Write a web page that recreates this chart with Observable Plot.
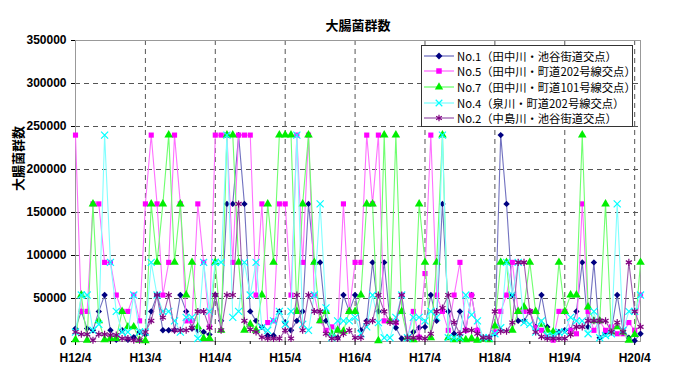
<!DOCTYPE html>
<html><head><meta charset="utf-8">
<script src="https://cdn.jsdelivr.net/npm/d3@7"></script>
<script src="https://cdn.jsdelivr.net/npm/@observablehq/plot@0.6"></script>
<style>
body{margin:0;background:#fff;}
#wrap{position:relative;width:680px;height:380px;}
#legend{position:absolute;left:421px;top:45px;width:212px;height:82px;border:1px solid #333;background:#fff;font-family:"Noto Sans CJK JP";font-size:11.3px;box-sizing:border-box;padding:2px 0 0 1px;color:#000;overflow:visible}
.row{display:flex;align-items:center;height:15.6px;white-space:nowrap}
.row svg{margin-right:2px;flex-shrink:0}
</style></head><body><div id="wrap"><div id="legend"></div></div>
<script>
// month index 0 = H12/4 ... 96 = H20/4, 97 = H20/5
const tickLabels = ["H12/4","H13/4","H14/4","H15/4","H16/4","H17/4","H18/4","H19/4","H20/4"];
const yTicks = [0,50000,100000,150000,200000,250000,300000,350000];

const no1 = [15000,35000,15000,13000,35000,54000,13000,2000,13000,2000,5000,11000,
 8000,35000,54000,13000,13000,13000,54000,35000,15000,13000,11000,8000,
 54000,24000,160000,160000,240000,160000,35000,24000,17000,7000,7000,35000,
 22000,13000,24000,35000,160000,92000,92000,24000,9000,4300,54000,35000,
 54000,13000,24000,92000,35000,92000,24000,16000,3500,3500,11000,16000,
 17000,54000,24000,160000,35000,9000,35000,13000,54000,13000,3500,4300,
 9000,240000,160000,54000,24000,24000,35000,17000,54000,17000,3500,11000,
 13000,13000,35000,92000,17000,92000,4300,9000,13000,54000,13000,4300,
 1000,9000];
const no5 = [240000,35000,35000,160000,160000,92000,92000,54000,35000,35000,54000,24000,
 160000,240000,160000,54000,92000,240000,160000,24000,24000,160000,92000,17000,
 240000,240000,240000,92000,240000,240000,240000,54000,160000,22000,24000,160000,
 160000,54000,240000,92000,240000,54000,24000,13000,17000,13000,160000,35000,
 92000,92000,240000,160000,240000,24000,24000,22000,54000,4300,35000,5000,
 79000,240000,54000,35000,13000,54000,92000,13000,54000,13000,4300,4300,
 11000,35000,54000,92000,35000,35000,35000,16000,13000,5400,1500,35000,
 35000,13000,9000,160000,35000,13000,24000,13000,17000,9000,9000,22000,
 13000,54000];
const no7 = [2000,54000,1500,160000,24000,2000,3500,3500,35000,17000,17000,1500,
 1000,160000,92000,160000,240000,92000,160000,54000,92000,17000,3500,3500,
 92000,13000,240000,240000,92000,13000,20000,13000,54000,160000,92000,240000,
 240000,240000,35000,160000,240000,92000,24000,35000,9000,13000,12000,35000,
 35000,54000,160000,160000,1000,240000,24000,240000,35000,4300,2000,160000,
 92000,4300,92000,240000,4300,2000,3500,2000,3500,1500,3000,2000,
 18000,92000,92000,13000,35000,40000,92000,35000,20000,13000,11000,92000,
 35000,54000,54000,240000,40000,24000,24000,160000,11000,17000,11000,1500,
 8000,92000];
const no4 = [11000,54000,54000,13000,20000,240000,92000,35000,11000,11000,54000,11000,
 11000,92000,54000,35000,35000,24000,11000,28000,28000,3500,92000,35000,
 92000,92000,240000,28000,35000,92000,54000,92000,16000,13000,24000,35000,
 20000,35000,240000,20000,13000,54000,160000,39000,4300,24000,24000,24000,
 28000,9000,17000,54000,22000,4300,4300,28000,54000,4300,28000,28000,
 24000,35000,28000,240000,4300,4300,4300,54000,31000,24000,4300,4300,
 9000,16000,92000,54000,92000,22000,20000,11000,24000,7000,7000,11000,
 11000,28000,24000,24000,9000,35000,4300,7000,9000,160000,13000,35000,
 35000,54000];
const no2 = [11000,8500,8500,1500,8500,8500,7500,7500,3500,3500,1500,1500,
 11000,24000,54000,28000,54000,13000,13000,13000,16000,35000,35000,16000,
 54000,13000,54000,54000,160000,24000,14000,11000,5000,3500,3500,3500,
 13000,3500,54000,13000,54000,35000,35000,9000,3500,3500,9000,13000,
 4300,4300,22000,24000,54000,35000,22000,22000,54000,4300,4300,4300,
 3500,9000,35000,39000,54000,22000,9000,13000,13000,9000,4300,4300,
 35000,12000,12000,22000,92000,92000,35000,11000,5400,3500,3500,3500,
 3500,8000,17000,17000,24000,24000,24000,24000,11000,22000,11000,92000,
 35000,17000];

const seriesNames = ["No.1（田中川・池谷街道交点）","No.5（田中川・町道202号線交点）","No.7（田中川・町道101号線交点）","No.4（泉川・町道202号線交点）","No.2（中島川・池谷街道交点）"];
const seriesValues = [no1,no5,no7,no4,no2];
const lineColors = ["#7272c0","#ff70ff","#70ff70","#80ffff","#a060b0"];
const markColors = ["#000080","#ff00ff","#00ee00","#00ffff","#800080"];
const symbols = ["diamond2","square","triangle","times","asterisk"];
const filled = [true,true,true,false,false];

const data = [];
seriesValues.forEach((vals,s) => vals.forEach((v,i) => data.push({s, i, v})));

const marks = [
  Plot.gridY({ticks: yTicks.slice(1,-1), stroke:"#555", strokeOpacity:1, strokeDasharray:"5,4"}),
  Plot.gridX({ticks: d3.range(12, 97, 12), stroke:"#555", strokeOpacity:1, strokeDasharray:"5,4"}),
  Plot.frame({stroke:"#999"}),
  Plot.axisY({ticks: yTicks, tickFormat: d => String(d), tickSize: 4, tickPadding: 5, label: null, fontSize: 12, fontWeight: "bold", fontFamily: "Liberation Sans"}),
  Plot.axisX({ticks: d3.range(0, 97, 12), tickFormat: (d, k) => tickLabels[k], tickSize: 4, tickPadding: 8, label: null, fontSize: 12, fontWeight: "bold", fontFamily: "Liberation Sans"}),
  Plot.axisX({ticks: d3.range(6, 97, 12), tickSize: 3, text: null, label: null}),
  Plot.text(["大腸菌群数"], {frameAnchor: "top", dy: -20, fontSize: 13, fontWeight: "bold"}),
  Plot.text(["大腸菌群数"], {frameAnchor: "left", dx: -57, rotate: -90, fontSize: 13, fontWeight: "bold"})
];
seriesValues.forEach((vals, s) => {
  const d = data.filter(p => p.s === s);
  marks.push(Plot.line(d, {x: "i", y: "v", stroke: lineColors[s], strokeWidth: 1.1}));
  if (filled[s]) marks.push(Plot.dot(d, {x: "i", y: "v", symbol: symbols[s], fill: markColors[s], r: s === 2 ? 3.2 : 2.9}));
  else marks.push(Plot.dot(d, {x: "i", y: "v", symbol: symbols[s], stroke: markColors[s], strokeWidth: 1.2, r: 3.3}));
});

const chart = Plot.plot({
  width: 680, height: 380,
  marginLeft: 75, marginRight: 40, marginTop: 40, marginBottom: 39,
  x: {domain: [0, 97]},
  y: {domain: [0, 350000]},
  style: {fontFamily: "Noto Sans CJK JP", background: "#fff", color: "#000"},
  marks
});
document.getElementById("wrap").prepend(chart);

// legend
const leg = d3.select("#legend");
const symMap = [d3.symbolDiamond2, d3.symbolSquare, d3.symbolTriangle, d3.symbolTimes, d3.symbolAsterisk];
seriesNames.forEach((name, s) => {
  const row = leg.append("div").attr("class", "row");
  const svg = row.append("svg").attr("width", 32).attr("height", 12);
  svg.append("line").attr("x1", 1).attr("x2", 31).attr("y1", 6).attr("y2", 6).attr("stroke", lineColors[s]).attr("stroke-width", 1.3);
  const p = svg.append("path").attr("transform", "translate(16,6)").attr("d", d3.symbol(symMap[s], 30)());
  if (filled[s]) p.attr("fill", markColors[s]); else p.attr("fill", "none").attr("stroke", markColors[s]).attr("stroke-width", 1.2);
  row.append("span").text(name);
});
</script></body></html>
